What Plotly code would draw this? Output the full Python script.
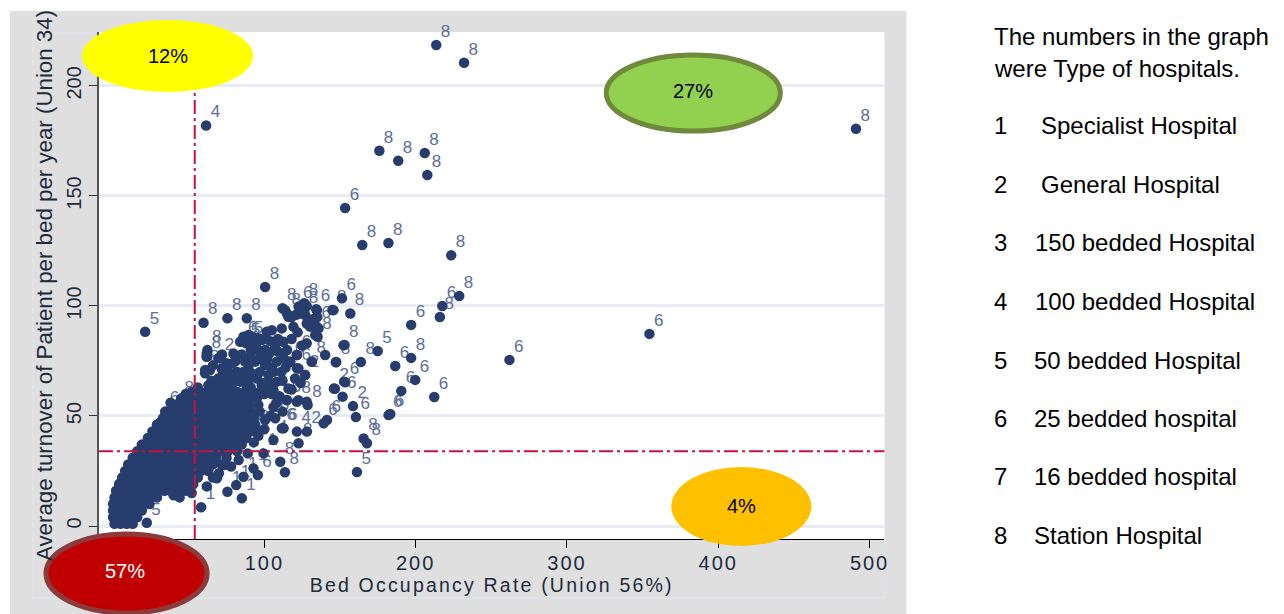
import plotly.graph_objects as go

W, H = 1284, 614

# Labelled hospitals: bed occupancy, turnover, type
labelled_x = [213.6,232,491,61.5,176,188.5,206,207.7,153.4,164.7,182,223.5,100.5,228.8,217.6,216,197,262,354.5,21.2,
              59.8,75.6,88.4,62.4,62,70.8,86.2,88,90,112,115,122.6,126.4,126.4,134.3,134.7,135.2,151.3,156.8,145,
              153,147.5,163.8,174.9,146.6,153.5,151.7,158.6,160.5,182.1,165.6,167.8,161.2,141.4,139.2,128.1,121.5,128.6,121.5,114.9,
              112.7,110.5,113.6,122.6,106,99.5,95.7,85.1,75.6,81.4,86.2,92.8,68.6,58.2,22.3,186.5,197,190.5,199.7,212.3,
              183.2,4.6,34.4,44.3,60.9,106,88.4,94,100.5,107.2,111.6,121.5,117.1,121.5,131.4,127]
labelled_y = [218.6,210.5,180.5,182,170.5,166,169.5,159.5,144.5,127.7,128.6,123,108.6,104.5,100,95,91.4,75.5,87.3,88.3,
              92.4,94.4,94.4,80,77,76.2,83.8,83,84,99,96.6,99.7,101.2,97.4,98.5,90.6,86,103.5,96.6,98.2,
              82.3,74.5,74.5,79.5,62.4,65.3,58.8,54.5,49.5,50.4,39.8,37.6,24.5,48.2,46.7,42.9,42.9,55,56.5,57.3,
              44.4,29.2,24.4,37.6,39.1,33,23.2,12.6,15.6,18.6,22.4,26.2,21.7,8.5,1.5,72.7,76.4,61.4,66.4,58.6,
              50.9,19.4,52,56.5,70.9,61.8,43.6,43.6,48.2,49,44.4,77.7,74.7,71.7,74.7,68.6]
labelled_type = ["8","8","8","4","8","8","8","8","6","8","8","8","8","8","6","8","6","6","6","5",
                 "8","8","8","8","8","2","6","5","5","8","8","6","8","8","6","6","8","6","8","8",
                 "8","8","8","5","2","6","6","2","6","6","8","8","5","6","6","2","4","8","8","6",
                 "6","8","8","8","4","1","6","1","1","1","1","1","6","1","5","6","8","6","6","6",
                 "6","8","6","8","8","8","6","6","2","6","6","6","6","6","8","2"]

# Dense cloud, read row by row: turnover level and bed occupancy values on it
turnover_levels = [1,4,7,10,13,16,19,22,25,28,31,34,37,40,43,46,49,52,55,58,61]
occupancy_by_level = [
    [1,5,9,13],
    [0,4,8,12,16],
    [0,3,7,11,15,19],
    [0,4,8,12,16,20,24],
    [1,5,9,13,17,21,25,29],
    [2,6,10,14,18,22,26,30,34,38,43,48],
    [4,8,13,18,23,28,33,38,43,48,53],
    [6,11,16,21,26,31,36,41,46,51,56],
    [8,13,18,23,28,33,38,43,48,53,58,63],
    [10,15,20,25,30,35,40,45,50,55,60,66,72],
    [13,18,23,28,33,38,43,48,53,58,63,68,75],
    [16,21,26,31,36,41,46,51,56,61,66,71,76,82],
    [19,24,29,34,39,44,49,54,59,64,69,74,79,85],
    [23,28,33,38,43,48,53,58,63,68,73,78,83,88],
    [26,31,36,41,46,51,56,61,66,71,76,81,86,91],
    [29,34,39,44,49,54,59,64,69,74,79,84,89,94],
    [33,38,43,48,53,58,63,68,73,78,83,88,93],
    [36,41,46,51,56,61,66,71,76,81,86,91,97],
    [40,45,50,55,60,65,70,75,80,85,90,96],
    [45,50,55,60,65,70,75,80,85,90,95],
    [52,57,62,67,72,77,82,87,92,97],
]
cloud_x = [x for row in occupancy_by_level for x in row]
cloud_y = [lvl for lvl, row in zip(turnover_levels, occupancy_by_level) for _ in row]

# Individual hospitals along the lower edge of the cloud
edge_x = [40,44,52,62,66,70,73,78,83,89,93,96,100,104,106,11,15,22,27,31,38,48,56]
edge_y = [14,13,15,18,22,24,27.7,27,30,33,38,41,44,50,54,25,29,36,40,47,56,60,63]

# Individual hospitals in the upper arm of the cloud
arm_x = [61.9,61.9,69.6,60.8,64.1,71.8,78.5,79.6,86.2,84,89.5,96.1,98.3,101.6,104.9,111.5,113.7,115.9,119.2,124.7,
         126.9,123.6,134.7,145.7,130.2,135.8,133.6,152.3,140.2,121.4,117,122.5,126.9,131.3,147.2,120.3,115.9,108.2,109.3,107.1,
         112.6,100.5,95,93.9,87.3,89.5,81.8,76.2,100.5,106,108.2,69.6,73,84,95,102.7,79.6,146,152.7,128,
         122.5,103.8,114.8,63,78.5,88.4,98.3,
         65,68,72,75,77,82,86,86,90,91,93,97,99,104,105,102,97,91,85,81,75,72,66,94,91,104,104,109,115,113,111,118,114,97,
         101,92,122,118,128,128,121,132,135,125,128,112,105,100,110,124,118,112,108]
arm_y = [78.4,76.9,76.2,69.4,70.9,71.6,73.9,78.4,86,83.7,86.8,85.3,84.5,88.3,89,89.8,98.1,95.1,90.6,98.9,
         95.9,96.6,98.1,98.1,90.6,89.8,86.8,82.2,77.7,77.7,74.7,71.6,68.6,74.7,74.4,67,62.5,74.7,79.2,82.2,
         83.7,80,80.7,74.7,74.7,71.6,70.1,70.1,73.1,70.1,65.6,67,64.8,65.6,67,68.6,67.8,62.5,65.6,56.5,
         57.2,61.8,57.2,64,64,64,64,
         66,63.5,68,66,63,68,66,70,67,63,69,70,65,65,72,76,76,77,78,75,74,78,73,83,80,79,84,85,80,76,70,85,72,79,
         85,86,88,95,92,100,96,94,95,82,83,66,60,60,59,65,62,52,56]

x_ticks = [0, 100, 200, 300, 400, 500]
y_ticks = [0, 50, 100, 150, 200]
union_occupancy = 54
union_turnover = 34

quadrant_labels = ["12%", "27%", "4%", "57%"]
intro_lines = ["The numbers in the graph", "were Type of hospitals."]
type_numbers = ["1", "2", "3", "4", "5", "6", "7", "8"]
type_names = ["Specialist Hospital", "General Hospital", "150 bedded Hospital", "100 bedded Hospital",
              "50 bedded Hospital", "25 bedded hospital", "16 bedded hospital", "Station Hospital"]

FONT = "Liberation Sans, Arial, sans-serif"
NAVY = "#263d6e"
LABEL = "#5a6d9c"
RED = "#c8103c"
INK = "#1c2b3e"
LABEL_DX, LABEL_DY = 3, 1.8


def px(v):
    return v * 1.002 / W


def py(v):
    return 1 - v / H


def rect(x0, y0, x1, y1, **kw):
    return dict(type="rect", xref="paper", yref="paper", x0=px(x0), x1=px(x1), y0=py(y1), y1=py(y0), **kw)


def ellipse(x0, y0, x1, y1, fill, line=None, lw=0):
    return dict(type="circle", xref="paper", yref="paper", x0=px(x0), x1=px(x1), y0=py(y1), y1=py(y0),
                fillcolor=fill, line=dict(color=line or fill, width=lw), layer="above")


fig = go.Figure()
fig.add_trace(go.Scatter(x=[v + LABEL_DX for v in labelled_x], y=[v + LABEL_DY for v in labelled_y],
                         text=labelled_type, mode="text",
                         textposition="top right", cliponaxis=False, hoverinfo="skip",
                         textfont=dict(family="Liberation Sans Narrow, Liberation Sans", size=17, color=LABEL)))
fig.add_trace(go.Scatter(x=cloud_x + edge_x + arm_x + labelled_x, y=cloud_y + edge_y + arm_y + labelled_y,
                         mode="markers", cliponaxis=False,
                         marker=dict(size=10.5, color=NAVY, line=dict(width=0))))

shapes = [
    rect(10, 11, 906, 614, fillcolor="#dfdfdf", line=dict(width=0), layer="below"),
    rect(33, 33, 884, 598, fillcolor="rgba(0,0,0,0)", line=dict(color="#dfe5f0", width=1), layer="below"),
    rect(99, 32, 884, 539, fillcolor="#ffffff", line=dict(width=0), layer="below"),
    dict(type="line", xref="x", yref="paper", x0=union_occupancy, x1=union_occupancy,
         y0=py(539), y1=py(32), line=dict(color=RED, width=2, dash="14px,4px,3px,4px"), layer="above"),
    dict(type="line", xref="paper", yref="y", x0=px(99), x1=px(884), y0=union_turnover, y1=union_turnover,
         line=dict(color=RED, width=2, dash="14px,4px,3px,4px"), layer="above"),
    ellipse(82, 20, 253, 92, "#ffff00"),
    ellipse(606, 55, 780, 131, "#92d050", "#6f8a3c", 5),
    ellipse(671, 467, 811, 546, "#ffc000"),
    ellipse(46, 534, 207, 613, "#c00000", "#8c3a3a", 5),
]

annotations = []


def note(x, y, text, size=20, color="#000000", anchor="center"):
    annotations.append(dict(xref="paper", yref="paper", x=px(x), y=py(y), text=text, showarrow=False,
                            xanchor=anchor, yanchor="middle", font=dict(family=FONT, size=size, color=color)))


note(168, 56, quadrant_labels[0])
note(693, 91, quadrant_labels[1])
note(741, 506, quadrant_labels[2])
note(125, 571, quadrant_labels[3], color="#ffffff")
note(992, 36, intro_lines[0], size=24, anchor="left")
note(992, 68, intro_lines[1], size=24, anchor="left")
row_y = [126, 184, 243, 301, 360, 418, 476, 535]
name_x = [1039, 1039, 1033, 1033, 1032, 1032, 1032, 1032]
for num, name, y, x in zip(type_numbers, type_names, row_y, name_x):
    note(992, y, num, size=24, anchor="left")
    note(x, y, name, size=24, anchor="left")

fig.update_layout(
    width=W, height=H, autosize=False,
    margin=dict(l=0, r=0, t=0, b=0, pad=0),
    paper_bgcolor="#ffffff", plot_bgcolor="rgba(0,0,0,0)",
    showlegend=False, shapes=shapes, annotations=annotations,
    font=dict(family=FONT, color=INK),
    xaxis=dict(domain=[px(99), px(884)], range=[-9.26, 509.8], tickvals=x_ticks,
               ticktext=["" , "100", "200", "300", "400", "500"],
               ticks="outside", ticklen=8, tickwidth=1, tickcolor="#000000",
               ticklabelstandoff=-2,
               showline=True, linecolor="#000000", linewidth=1, showgrid=False, zeroline=False,
               tickfont=dict(size=20, color=INK),
               title=dict(text="Bed Occupancy Rate (Union 56%)", standoff=0, font=dict(size=19.5, color=INK))),
    yaxis=dict(domain=[py(539), py(32)], range=[-5.9, 224.5], tickvals=y_ticks, tickangle=-90,
               ticks="outside", ticklen=8, tickwidth=1, tickcolor="#333333",
               showline=True, linecolor="#555555", linewidth=2,
               showgrid=True, gridcolor="#e9ecf5", gridwidth=3, zeroline=False,
               tickfont=dict(size=20, color=INK),
               title=dict(text="Average turnover of Patient per bed per year (Union 34)", standoff=4,
                          font=dict(size=22.3, color=INK))),
)

post = """
document.body.style.margin='0';
var s=document.createElement('style');
s.textContent='.xtitle{letter-spacing:2.2px}.xtick text{letter-spacing:2px}';
document.head.appendChild(s);
"""
fig.write_html("out.html", post_script=post, config={"displayModeBar": False})
